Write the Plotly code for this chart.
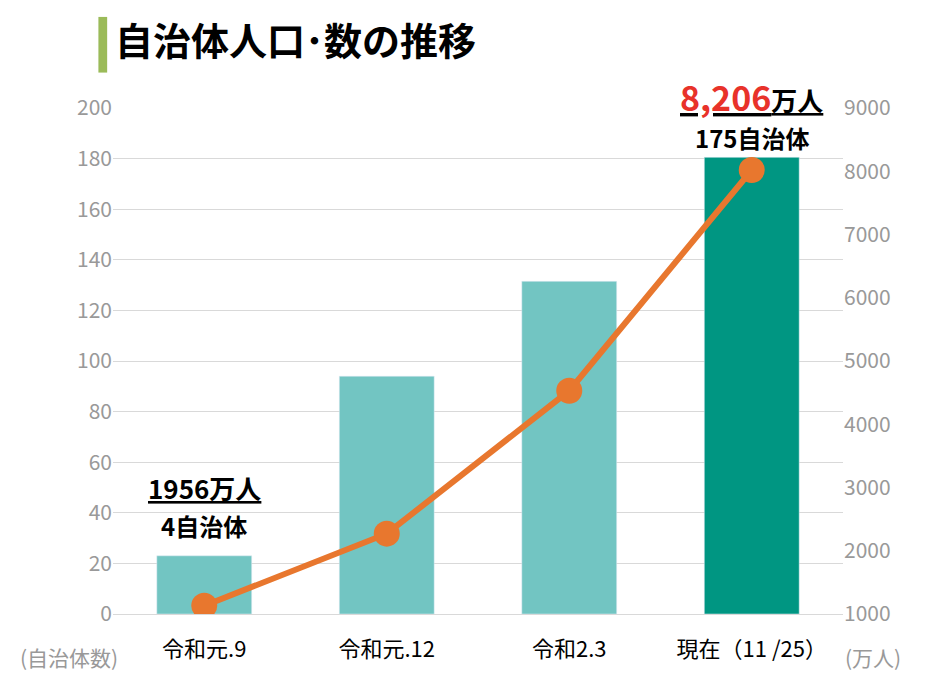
import plotly.graph_objects as go

categories = ["令和元.9", "令和元.12", "令和2.3", "現在（11 /25）"]
municipalities = [23, 94, 131.5, 180.5]
population = [1130, 2270, 4530, 8020]
bar_colors = ["#72C5C2", "#72C5C2", "#72C5C2", "#009682"]

fig = go.Figure()
fig.add_trace(go.Bar(x=categories, y=municipalities, marker_color=bar_colors, width=0.52, yaxis="y"))
fig.add_trace(go.Scatter(x=categories, y=population, yaxis="y2", mode="lines+markers",
                         line=dict(color="#E8772E", width=6),
                         marker=dict(size=26, color="#E8772E")))

font = "Noto Sans CJK JP"
fig.update_layout(
    width=950, height=690, showlegend=False, plot_bgcolor="white", paper_bgcolor="white",
    margin=dict(l=105, r=115, t=100, b=84),
    font=dict(family=font),
    xaxis=dict(tickfont=dict(size=22, color="black"), showline=True, linecolor="#d9d9d9", linewidth=1,
               ticks="outside", ticklen=16, tickcolor="rgba(0,0,0,0)"),
    yaxis=dict(range=[0, 200], dtick=20, tickfont=dict(size=21, color="#999999"),
               gridcolor="#d9d9d9", zeroline=False),
    yaxis2=dict(range=[1000, 9000], dtick=1000, overlaying="y", side="right",
                tickfont=dict(size=21, color="#999999"), showgrid=False, zeroline=False),
    bargap=0.5,
    shapes=[dict(type="rect", xref="paper", yref="paper", x0=-0.02, x1=-0.008, y0=1.07, y1=1.18,
                 fillcolor="#9BBB59", line_width=0)],
    annotations=[
        dict(text="<b>自治体人口･数の推移</b>", xref="paper", yref="paper", x=0.0, y=1.195,
             xanchor="left", yanchor="top", showarrow=False, font=dict(size=38, color="black")),
        dict(text="<b><u>1956万人</u></b>", x=0, y=50, xref="x", yref="y", showarrow=False,
             font=dict(size=26, color="black")),
        dict(text="<b>4自治体</b>", x=0, y=35, xref="x", yref="y", showarrow=False,
             font=dict(size=24, color="black")),
        dict(text="<b><u><span style='color:#E8322A;font-size:34px'>8,206</span>万人</u></b>", x=3, y=1.075,
             xref="x", yref="paper", showarrow=False, font=dict(size=26, color="black")),
        dict(text="<b>175自治体</b>", x=3, y=0.98, xref="x", yref="paper", showarrow=False,
             font=dict(size=24, color="black")),
        dict(text="(自治体数)", xref="paper", yref="paper", x=-0.13, y=-0.085, xanchor="left",
             yanchor="middle", showarrow=False, font=dict(size=21, color="#999999")),
        dict(text="(万人)", xref="paper", yref="paper", x=1.0, y=-0.085, xanchor="left",
             yanchor="middle", showarrow=False, font=dict(size=21, color="#999999")),
    ],
)
fig.write_html("out.html")
